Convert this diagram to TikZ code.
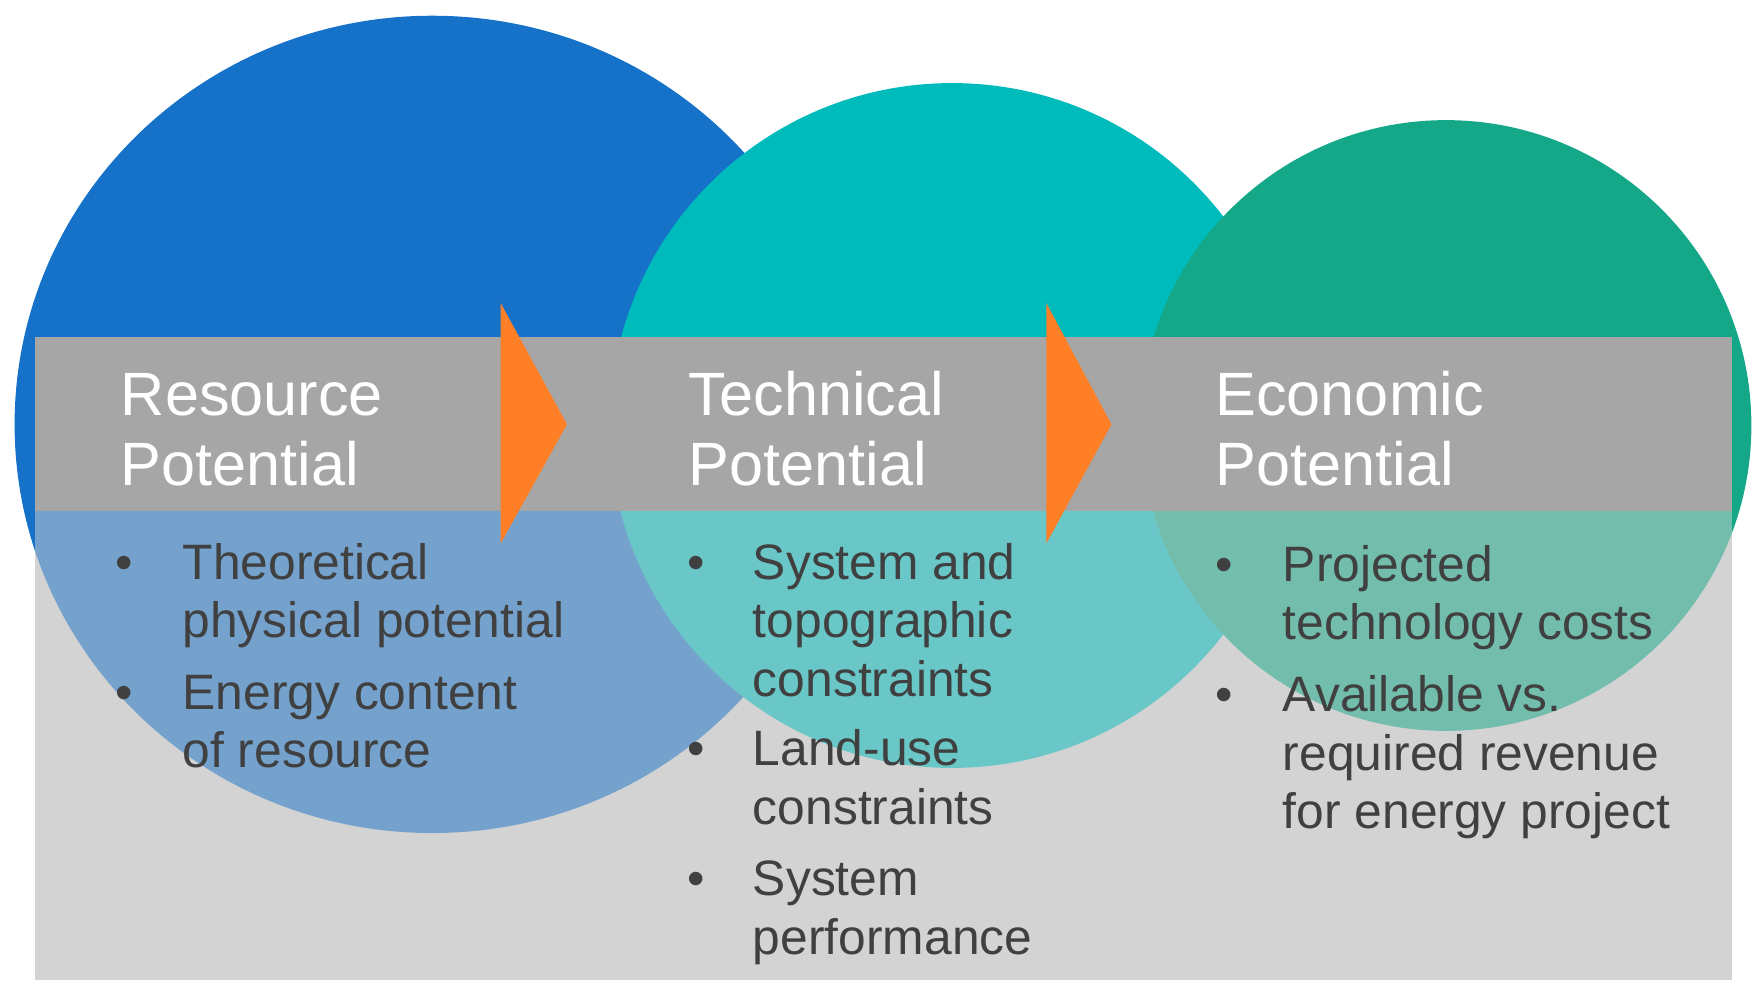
\documentclass[tikz,border=0pt]{standalone}
\usepackage{fontspec}
\setmainfont{Liberation Sans}
\definecolor{cblue}{RGB}{21,114,200}
\definecolor{cteal}{RGB}{0,187,187}
\definecolor{cgreen}{RGB}{20,168,136}
\definecolor{lgray}{RGB}{211,211,211}
\definecolor{band}{RGB}{166,166,166}
\definecolor{corange}{RGB}{255,127,39}
\definecolor{txt}{RGB}{64,64,64}
\begin{document}
\begin{tikzpicture}[x=0.01cm,y=-0.01cm,
  head/.style={anchor=base west,text=white,font=\fontsize{15.5}{18}\selectfont,inner sep=0},
  item/.style={anchor=base west,text=txt,font=\fontsize{12.6}{15}\selectfont,inner sep=0},
  arr/.style={fill=corange,draw=none}]
\useasboundingbox (0,0) rectangle (1565,884);
\fill[lgray] (31,455) rectangle (1543,873);
\fill[cblue] (385,378) ellipse [x radius=372, y radius=364];
\fill[cteal] (848,379) circle [radius=305];
\fill[cgreen] (1288,379) circle [radius=272];
\fill[lgray,fill opacity=0.5] (31,455) rectangle (1543,873);
\fill[band] (31,300) rectangle (1543,455);
\fill[arr] (446,270) -- (505,378) -- (446,484) -- cycle;
\fill[arr] (932,270) -- (990,378) -- (932,484) -- cycle;
% headings
\node[head] (h1a) at (107,370) {Resource};
\node[head] (h1b) at (107,432) {Potential};
\node[head] (h2a) at (613,370) {Technical};
\node[head] (h2b) at (613,432) {Potential};
\node[head] (h3a) at (1082,370) {Economic};
\node[head] (h3b) at (1082,432) {Potential};
% column 1
\node[item] (b11) at (102,516) {•};
\node[item] (t11) at (162,516) {Theoretical};
\node[item] (t12) at (162,568) {physical potential};
\node[item] (b12) at (102,632) {•};
\node[item] (t13) at (162,632) {Energy content};
\node[item] (t14) at (162,684) {of resource};
% column 2
\node[item] (b21) at (612,516) {•};
\node[item] (t21) at (670,516) {System and};
\node[item] (t22) at (670,568) {topographic};
\node[item] (t23) at (670,620) {constraints};
\node[item] (b22) at (612,682) {•};
\node[item] (t24) at (670,682) {Land-use};
\node[item] (t25) at (670,734) {constraints};
\node[item] (b23) at (612,798) {•};
\node[item] (t26) at (670,798) {System};
\node[item] (t27) at (670,850) {performance};
% column 3
\node[item] (b31) at (1082,518) {•};
\node[item] (t31) at (1142,518) {Projected};
\node[item] (t32) at (1142,570) {technology costs};
\node[item] (b32) at (1082,634) {•};
\node[item] (t33) at (1142,634) {Available vs.};
\node[item] (t34) at (1142,686) {required revenue};
\node[item] (t35) at (1142,738) {for energy project};
\end{tikzpicture}
\end{document}
